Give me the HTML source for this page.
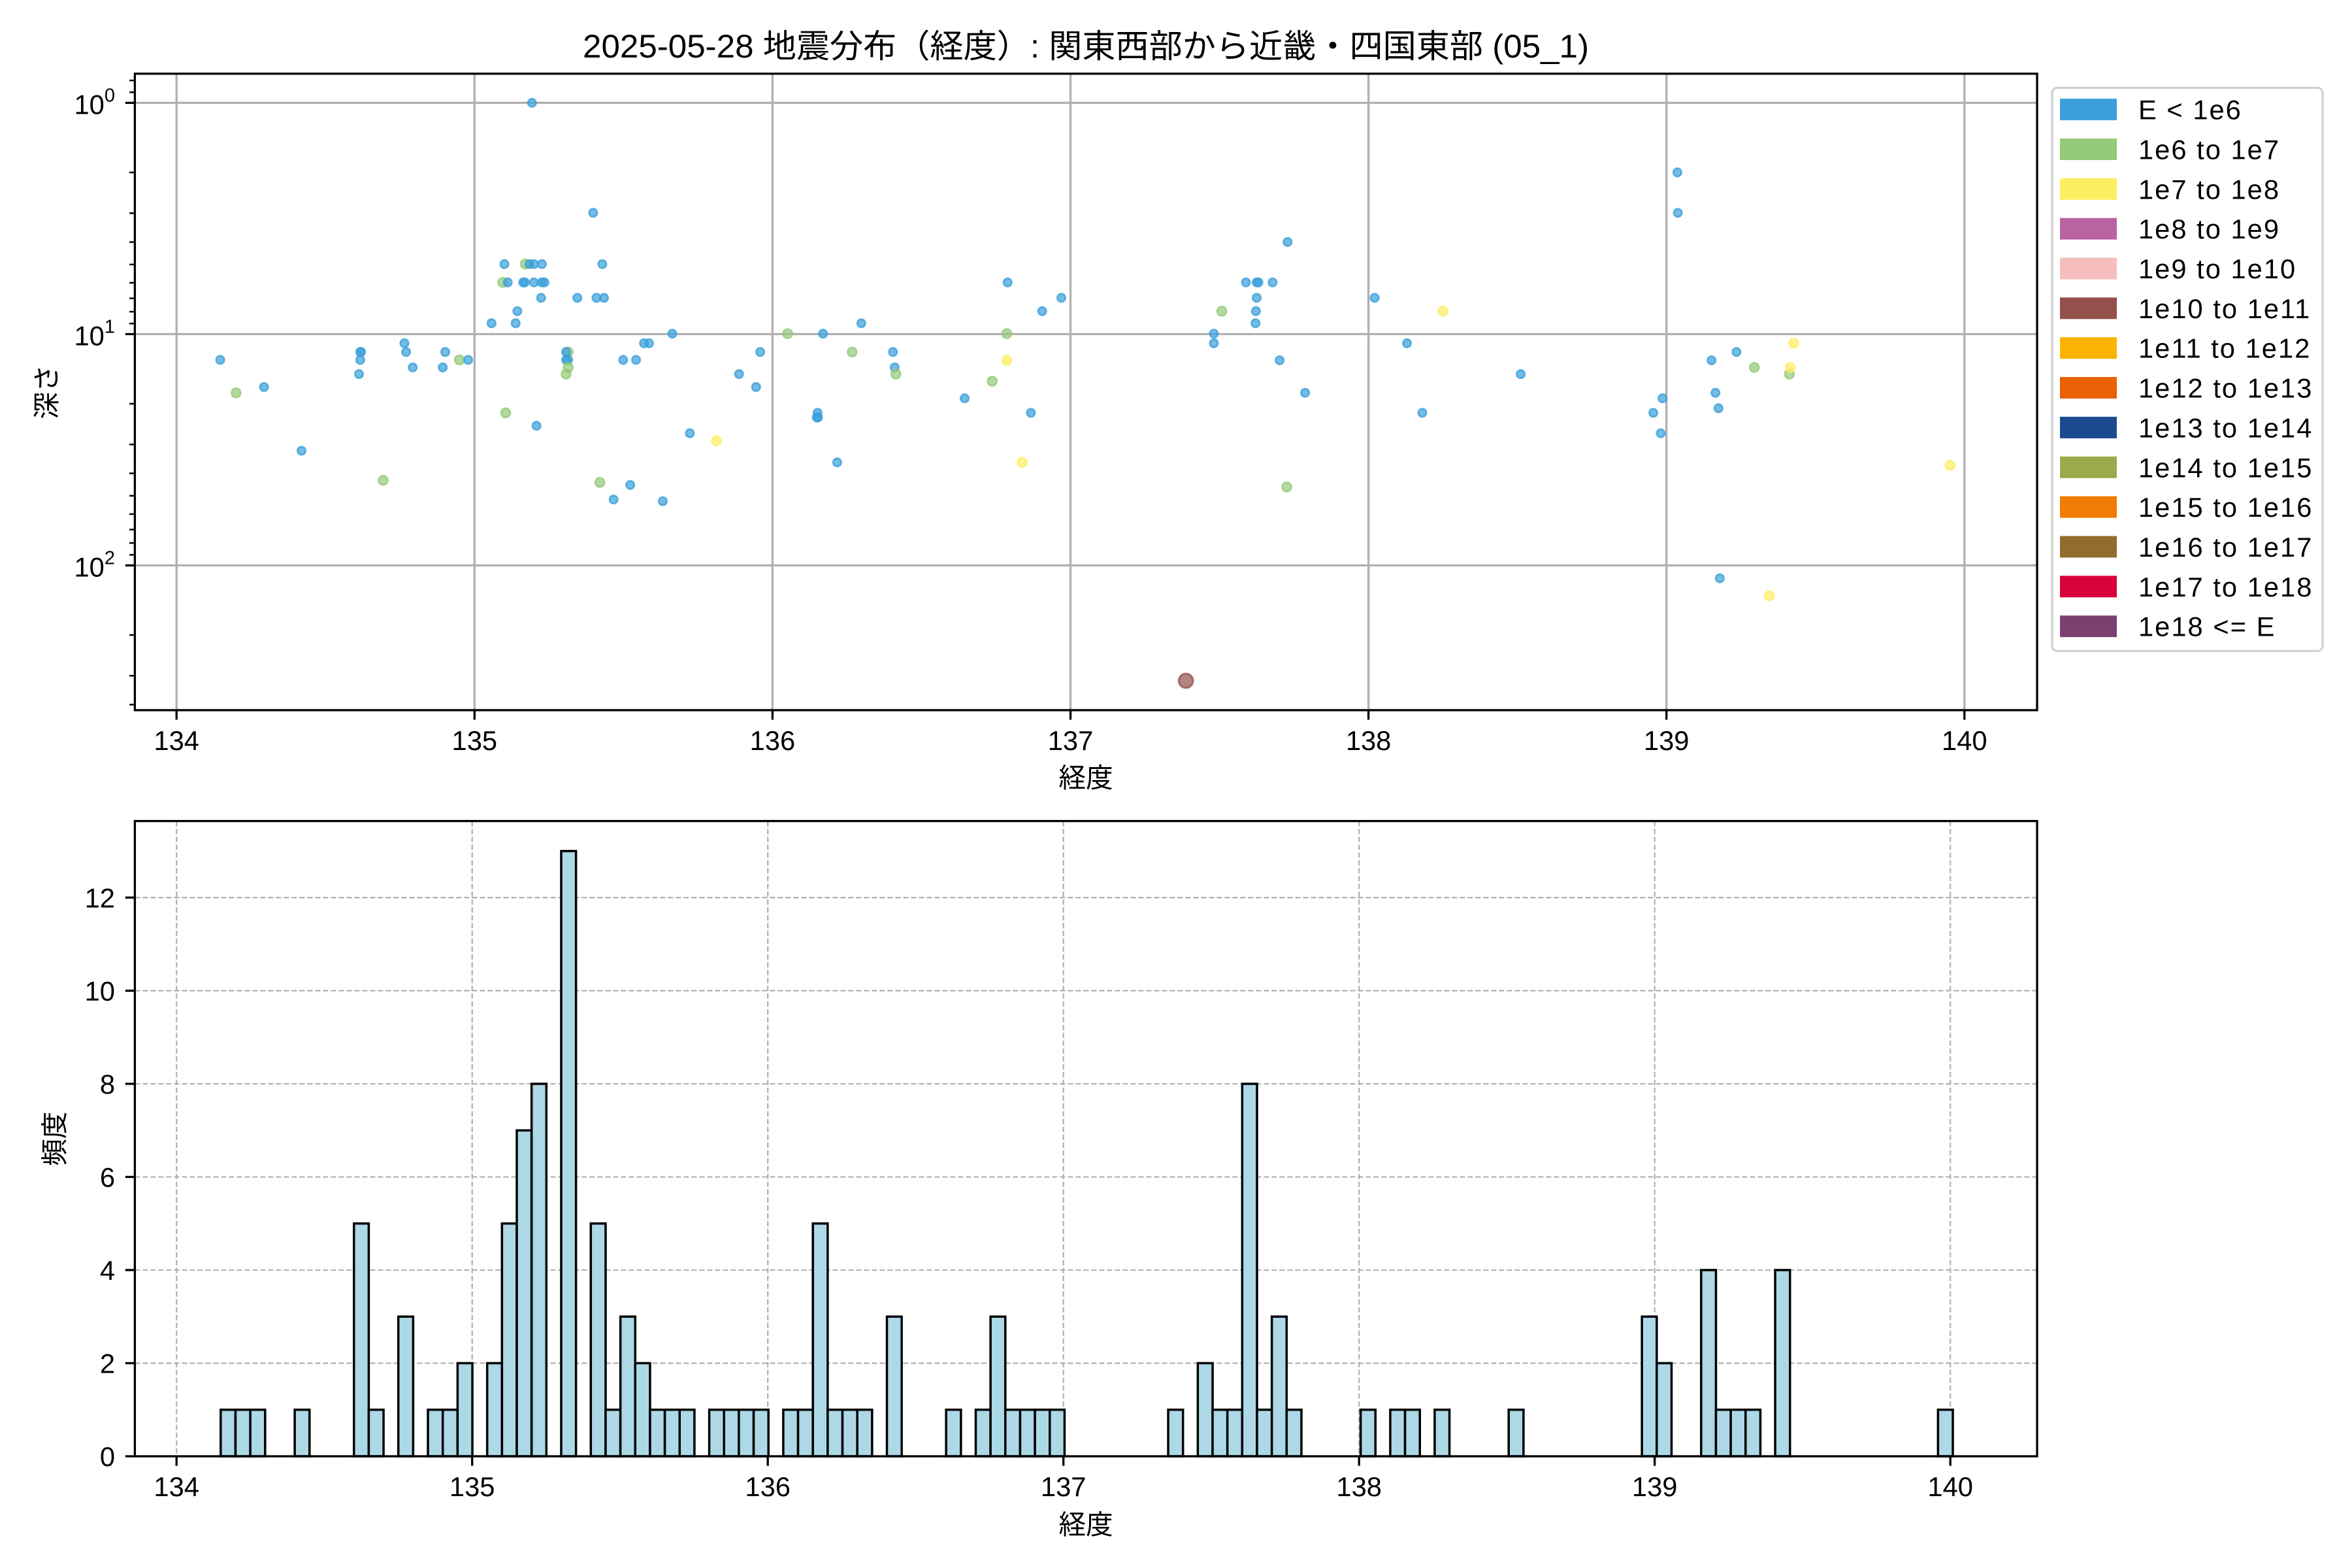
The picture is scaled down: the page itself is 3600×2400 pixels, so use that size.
<!DOCTYPE html>
<html><head><meta charset="utf-8">
<style>
html,body{margin:0;padding:0;background:#fff;}
svg{display:block;font-family:"Liberation Sans","Noto Sans CJK JP",sans-serif;}
</style></head>
<body>
<svg id="s" xmlns="http://www.w3.org/2000/svg" width="3600" height="2400" viewBox="0 0 3600 2400">
<rect width="3600" height="2400" fill="#fff"/>
<text x="1662" y="88" font-size="50" text-anchor="middle" textLength="1540" lengthAdjust="spacingAndGlyphs">2025-05-28 地震分布（経度）: 関東西部から近畿・四国東部 (05_1)</text>
<g id="gtop"></g>
<g id="ghist"></g>
<g id="gleg"></g>
</svg>
<script>
(function(){
const NS="http://www.w3.org/2000/svg";
function el(p,t,a,txt){const e=document.createElementNS(NS,t);for(const k in a)e.setAttribute(k,a[k]);if(txt!==undefined)e.textContent=txt;p.appendChild(e);return e;}
const gt=document.getElementById('gtop'),gh=document.getElementById('ghist'),gl=document.getElementById('gleg');
const L=206.4,R=3118,T1=112.8,B1=1087;
const xt=l=>270.2+456.1*(l-134);
const yt=v=>157.4+354*Math.log10(v);
for(let l=134;l<=140;l++) el(gt,'line',{x1:xt(l),x2:xt(l),y1:T1,y2:B1,stroke:'#b0b0b0','stroke-width':3.3});
for(const v of [1,10,100]) el(gt,'line',{x1:L,x2:R,y1:yt(v),y2:yt(v),stroke:'#b0b0b0','stroke-width':3.3});
const col={B:'#3a9fda',G:'#93c977',Y:'#fdee60',R:'#94504a'};
function pts(off,sx,sy,arr){for(const p of arr){const x=off[0]+p[0]/sx,y=off[1]+p[1]/sy;const c=col[p[2]];
 const r=p[2]=='R'?11:(p[2]=='B'?6.2:7);
 el(gt,'circle',{cx:x,cy:y,r:r,fill:c,'fill-opacity':0.7,stroke:c,'stroke-opacity':0.75,'stroke-width':2.8});}}
pts([200,100],1.568,1.568,[[963,90,'B'],[1110,354,'B'],[897,477,'B'],[947,477,'G'],[957,477,'B'],[968,477,'B'],[987,477,'B'],[1132,477,'B'],[893,521,'G'],[905,521,'B'],[942,521,'B'],[946,521,'B'],[968,521,'B'],[987,521,'B'],[993,521,'B'],[985,558,'B'],[1072,558,'B'],[1118,558,'B'],[1136,558,'B'],[928,590,'B'],[866,619,'B'],[924,619,'B'],[1300,644,'B'],[657,667,'B'],[1232,667,'B'],[1244,667,'B'],[551,688,'B'],[553,688,'B'],[661,688,'B'],[755,688,'B'],[1050,688,'G'],[1045,688,'B'],[1511,688,'B'],[215,707,'B'],[551,707,'B'],[789,707,'G'],[810,707,'B'],[1045,707,'B'],[1050,707,'B'],[1182,707,'B'],[1213,707,'B'],[677,725,'B'],[749,725,'B'],[1050,725,'G'],[548,741,'B'],[1045,741,'G'],[1460,741,'B'],[320,772,'B'],[1501,772,'B'],[253,786,'G'],[900,834,'G'],[974,865,'B'],[1342,883,'B'],[1406,901,'Y'],[410,925,'B'],[606,996,'G'],[1126,1001,'G'],[1199,1007,'B'],[1159,1042,'B'],[1277,1046,'B']]);
pts([1150,100],1.568,1.568,[[1287,424,'B'],[615,521,'B'],[1187,521,'B'],[1213,521,'B'],[1217,521,'B'],[1251,521,'B'],[744,558,'B'],[1213,558,'B'],[1496,558,'B'],[698,590,'B'],[1129,590,'G'],[1211,590,'B'],[264,619,'B'],[1210,619,'B'],[87,644,'G'],[172,644,'B'],[613,644,'G'],[1110,644,'B'],[1110,667,'B'],[242,688,'G'],[340,688,'B'],[613,708,'Y'],[1268,708,'B'],[344,725,'B'],[347,741,'G'],[578,758,'G'],[1329,786,'B'],[512,799,'B'],[159,834,'B'],[157,845,'B'],[160,845,'B'],[671,834,'B'],[206,953,'B'],[650,953,'Y'],[1285,1012,'G'],[1043,1477,'R']]);
pts([2100,100],1.4933,1.568,[[698,257,'B'],[699,354,'B'],[162,590,'Y'],[80,667,'B'],[964,667,'Y'],[833,688,'B'],[776,708,'B'],[874,725,'G'],[954,741,'G'],[956,725,'Y'],[340,741,'B'],[785,786,'B'],[664,799,'B'],[115,834,'B'],[643,834,'B'],[792,823,'B'],[660,883,'B'],[1321,960,'Y'],[795,1231,'B'],[908,1273,'Y']]);
el(gt,'rect',{x:L,y:T1,width:R-L,height:B1-T1,fill:'none',stroke:'#000','stroke-width':3.3});
for(let l=134;l<=140;l++){el(gt,'line',{x1:xt(l),x2:xt(l),y1:B1,y2:B1+14.6,stroke:'#000','stroke-width':3.3});
 el(gt,'text',{x:xt(l),y:1148,'font-size':41.7,'text-anchor':'middle'},String(l));}
for(let k=-1;k<=2;k++)for(let m=1;m<=9;m++){const v=m*Math.pow(10,k);const y=yt(v);if(y<T1||y>B1)continue;
 el(gt,'line',{x1:L,x2:L-(m==1?14.6:8.3),y1:y,y2:y,stroke:'#000','stroke-width':m==1?3.3:2.5});
 if(m==1){const t=el(gt,'text',{x:176,y:y+17,'font-size':41.7,'text-anchor':'end'},'10');el(t,'tspan',{dy:-19,'font-size':29},String(k));}}
el(gt,'text',{x:1662,y:1205,'font-size':41.7,'text-anchor':'middle'},'経度');
el(gt,'text',{x:0,y:0,'font-size':41.7,'text-anchor':'middle',transform:'translate(86,600) rotate(-90)'},'深さ');
const T2=1256.7,B2=2229;
const xh=l=>270.2+452.5*(l-134);
const yh=v=>2229-71.26*v;
for(let l=134;l<=140;l++) el(gh,'line',{x1:xh(l),x2:xh(l),y1:T2,y2:B2,stroke:'#b0b0b0','stroke-width':2.2,'stroke-dasharray':'8,4'});
for(let v=2;v<=12;v+=2) el(gh,'line',{x1:L,x2:R,y1:yh(v),y2:yh(v),stroke:'#b0b0b0','stroke-width':2.2,'stroke-dasharray':'8,4'});
const bins={0:1,1:1,2:1,5:1,9:5,10:1,12:3,14:1,15:1,16:2,18:2,19:5,20:7,21:8,23:13,25:5,26:1,27:3,28:2,29:1,30:1,31:1,33:1,34:1,35:1,36:1,38:1,39:1,40:5,41:1,42:1,43:1,45:3,49:1,51:1,52:3,53:1,54:1,55:1,56:1,64:1,66:2,67:1,68:1,69:8,70:1,71:3,72:1,77:1,79:1,80:1,82:1,87:1,96:3,97:2,100:4,101:1,102:1,103:1,105:4,116:1};
const bw=22.66;
for(const k in bins){const x=337.8+bw*k,h=bins[k];
 el(gh,'rect',{x:x,y:yh(h),width:bw,height:71.26*h,fill:'#add8e6',stroke:'#000','stroke-width':3.5});}
el(gh,'rect',{x:L,y:T2,width:R-L,height:B2-T2,fill:'none',stroke:'#000','stroke-width':3.3});
for(let l=134;l<=140;l++){el(gh,'line',{x1:xh(l),x2:xh(l),y1:B2,y2:B2+14.6,stroke:'#000','stroke-width':3.3});
 el(gh,'text',{x:xh(l),y:2290,'font-size':41.7,'text-anchor':'middle'},String(l));}
for(let v=0;v<=12;v+=2){el(gh,'line',{x1:L,x2:L-14.6,y1:yh(v),y2:yh(v),stroke:'#000','stroke-width':3.3});
 el(gh,'text',{x:176,y:yh(v)+15,'font-size':41.7,'text-anchor':'end'},String(v));}
el(gh,'text',{x:1662,y:2348,'font-size':41.7,'text-anchor':'middle'},'経度');
el(gh,'text',{x:0,y:0,'font-size':41.7,'text-anchor':'middle',transform:'translate(98,1743) rotate(-90)'},'頻度');
el(gl,'rect',{x:3141,y:134.4,width:414,height:862,rx:8,fill:'#fff','fill-opacity':0.8,stroke:'#d0d0d0','stroke-width':3.3});
const le=[['E < 1e6','#3a9fda'],['1e6 to 1e7','#93c977'],['1e7 to 1e8','#fdee60'],['1e8 to 1e9','#b964a0'],['1e9 to 1e10','#f5bebd'],['1e10 to 1e11','#94504a'],['1e11 to 1e12','#f8b400'],['1e12 to 1e13','#ea6005'],['1e13 to 1e14','#1c4a8f'],['1e14 to 1e15','#9aab4e'],['1e15 to 1e16','#f07c05'],['1e16 to 1e17','#926c2c'],['1e17 to 1e18','#d8023a'],['1e18 <= E','#7a4170']];
le.forEach((e,i)=>{const cy=167.6+60.85*i;
 el(gl,'rect',{x:3153,y:cy-16.5,width:87,height:33,fill:e[1]});
 el(gl,'text',{x:3273,y:cy+15,'font-size':41.7,'letter-spacing':2},e[0]);});
})();
</script>
</body></html>
